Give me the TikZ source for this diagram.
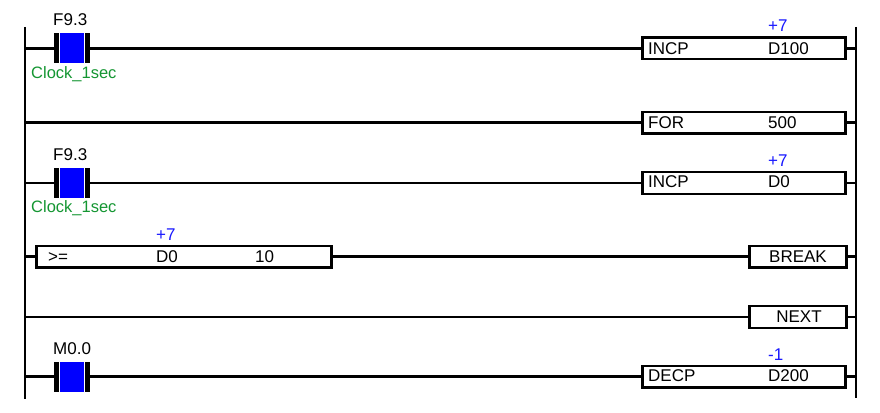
\documentclass[tikz,border=0pt]{standalone}
\usepackage{fontspec}
\setmainfont{Liberation Sans}
\definecolor{lblgreen}{RGB}{20,150,50}
\definecolor{valblue}{RGB}{25,25,255}
\begin{document}
\begin{tikzpicture}[x=1pt,y=-1pt,
  wire/.style={line width=2.3pt},
  contact/.style={minimum width=36pt,minimum height=30pt,inner sep=0pt,outer sep=0pt,
    path picture={
      \fill[blue] ([xshift=6pt]path picture bounding box.south west) rectangle ([xshift=-6pt]path picture bounding box.north east);
      \fill[black] (path picture bounding box.south west) rectangle ([xshift=4.6pt]path picture bounding box.north west);
      \fill[black] (path picture bounding box.south east) rectangle ([xshift=-4.6pt]path picture bounding box.north east);
    }},
  fbox/.style={draw,line width=2.3pt,inner sep=0pt,outer sep=0pt,minimum height=21.7pt,
    path picture={
      \fill (path picture bounding box.north west) rectangle ([xshift=2.2pt]path picture bounding box.south west);
      \fill (path picture bounding box.north east) rectangle ([xshift=-2.2pt]path picture bounding box.south east);
    }},
  txt/.style={inner sep=0pt,anchor=base west,font=\fontsize{17}{20}\selectfont},
  ctxt/.style={inner sep=0pt,anchor=base,font=\fontsize{17}{20}\selectfont},
  lbl/.style={txt,text=lblgreen,font=\fontsize{16.5}{20}\selectfont},
  val/.style={txt,text=valblue}]
\useasboundingbox[fill=white] (0,0) rectangle (880,412);

% rails
\coordinate (LT) at (25,27);  \coordinate (LB) at (25,399);
\coordinate (RT) at (856,27); \coordinate (RB) at (856,398);
\draw[wire] (LT) -- (LB);
\draw[wire] (RT) -- (RB);

% rung coordinates on rails
\coordinate (L1) at (25,48.5);  \coordinate (R1) at (856,48.5);
\coordinate (L2) at (25,122.5); \coordinate (R2) at (856,122.5);
\coordinate (L3) at (25,183);   \coordinate (R3) at (856,183);
\coordinate (L4) at (25,256.5); \coordinate (R4) at (856,256.5);
\coordinate (L5) at (25,317);   \coordinate (R5) at (856,317);
\coordinate (L6) at (25,376.5); \coordinate (R6) at (856,376.5);

% rung 1
\node[contact] (c1) at (72,48.5) {};
\node[fbox,minimum width=203.7pt] (b1) at (744,48.5) {};
\draw[wire] (L1) -- (c1.west);
\draw[wire] (c1.east) -- (b1.west);
\draw[wire] (b1.east) -- (R1);
\node[txt] (c1n) at (53,26) {F9.3};
\node[lbl] (c1l) at (31,78) {Clock\_1sec};
\node[txt] (b1a) at (648,54.5) {INCP};
\node[txt] (b1b) at (768,54.5) {D100};
\node[val] (b1v) at (768,32) {+7};

% rung 2
\node[fbox,minimum width=203.7pt] (b2) at (744,122.5) {};
\draw[wire] (L2) -- (b2.west);
\draw[wire] (b2.east) -- (R2);
\node[txt] (b2a) at (648,128.3) {FOR};
\node[txt] (b2b) at (768,128.3) {500};

% rung 3
\node[contact] (c3) at (72,183) {};
\node[fbox,minimum width=203.7pt] (b3) at (744,183) {};
\draw[wire] (L3) -- (c3.west);
\draw[wire] (c3.east) -- (b3.west);
\draw[wire] (b3.east) -- (R3);
\node[txt] (c3n) at (53,160) {F9.3};
\node[lbl] (c3l) at (31,212.5) {Clock\_1sec};
\node[txt] (b3a) at (648,187.7) {INCP};
\node[txt] (b3b) at (768,187.7) {D0};
\node[val] (b3v) at (768,166.7) {+7};

% rung 4
\node[fbox,minimum width=295.7pt] (cmp) at (184,256.5) {};
\node[fbox,minimum width=97.7pt] (b4) at (798,256.5) {};
\draw[wire] (L4) -- (cmp.west);
\draw[wire] (cmp.east) -- (b4.west);
\draw[wire] (b4.east) -- (R4);
\node[txt] (cmpa) at (48,262.3) {>=};
\node[txt] (cmpb) at (156,262.3) {D0};
\node[txt] (cmpc) at (255,262.3) {10};
\node[val] (cmpv) at (156,240) {+7};
\node[ctxt] (b4a) at (798,262.3) {BREAK};

% rung 5
\node[fbox,minimum width=97.7pt] (b5) at (798,317) {};
\draw[wire] (L5) -- (b5.west);
\draw[wire] (b5.east) -- (R5);
\node[ctxt] (b5a) at (799,322.7) {NEXT};

% rung 6
\node[contact] (c6) at (72,376.5) {};
\node[fbox,minimum width=203.7pt] (b6) at (744,376.5) {};
\draw[wire] (L6) -- (c6.west);
\draw[wire] (c6.east) -- (b6.west);
\draw[wire] (b6.east) -- (R6);
\node[txt] (c6n) at (53,354) {M0.0};
\node[txt] (b6a) at (648,381.7) {DECP};
\node[txt] (b6b) at (768,381.7) {D200};
\node[val] (b6v) at (768,360) {-1};
\end{tikzpicture}
\end{document}
